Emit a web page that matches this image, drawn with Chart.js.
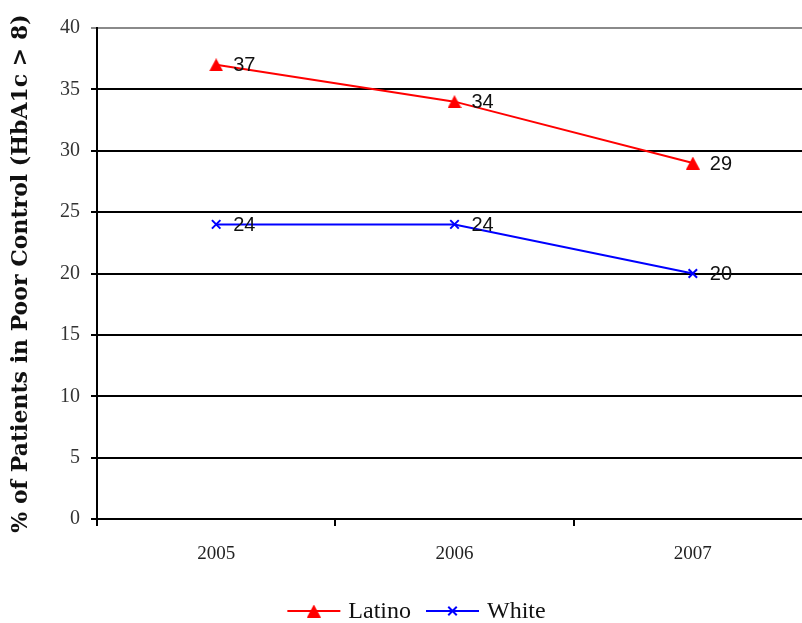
<!DOCTYPE html>
<html>
<head>
<meta charset="utf-8">
<script src="https://cdn.jsdelivr.net/npm/chart.js@4/dist/chart.umd.min.js"></script>
<style>
  html, body { margin: 0; padding: 0; background: #fff; overflow: hidden; }
  #wrap { width: 820px; height: 623px; }
</style>
</head>
<body>
<div id="wrap"><canvas id="c" width="820" height="623"></canvas></div>
<script>
// Poor glycaemic control by group and year
const years = ['2005', '2006', '2007'];
const latino = [37, 34, 29];
const white = [24, 24, 20];
const yTicks = [0, 5, 10, 15, 20, 25, 30, 35, 40];
const yTitle = '% of Patients in Poor Control (HbA1c > 8)';

const SERIF = '"Liberation Serif", "DejaVu Serif", serif';
const SANS = '"Liberation Sans", Arial, sans-serif';

// Filled triangle marker centred on its point
function triangleMarker(color, w, h) {
  const c = document.createElement('canvas');
  c.width = w; c.height = h;
  const g = c.getContext('2d');
  g.fillStyle = color;
  g.beginPath();
  g.moveTo(w / 2, 0);
  g.lineTo(w, h);
  g.lineTo(0, h);
  g.closePath();
  g.fill();
  return c;
}
const redTriangle = triangleMarker('#ff0000', 14, 13);

// Value labels to the right of each point
const valueLabels = {
  id: 'valueLabels',
  afterDatasetsDraw(chart) {
    const ctx = chart.ctx;
    ctx.save();
    ctx.font = '20px ' + SANS;
    ctx.fillStyle = '#111';
    ctx.textAlign = 'left';
    ctx.textBaseline = 'middle';
    chart.data.datasets.forEach((ds, i) => {
      chart.getDatasetMeta(i).data.forEach((pt, j) => {
        ctx.fillText(String(ds.data[j]), pt.x + 17, pt.y + 1);
      });
    });
    ctx.restore();
  }
};

// Legend with line-and-marker samples, centred under the plot
const lineLegend = {
  id: 'lineLegend',
  afterDraw(chart) {
    const ctx = chart.ctx;
    ctx.save();
    ctx.font = '24px ' + SERIF;
    const sample = 53, gap = 8, itemGap = 15;
    const items = chart.data.datasets.map(ds => ({ ds, w: sample + gap + ctx.measureText(ds.label).width }));
    const total = items.reduce((s, it) => s + it.w, 0) + itemGap * (items.length - 1);
    let x = 416.5 - total / 2;
    const y = 611;
    items.forEach(({ ds, w }) => {
      ctx.strokeStyle = ds.borderColor;
      ctx.lineWidth = ds.borderWidth;
      ctx.beginPath();
      ctx.moveTo(x, y);
      ctx.lineTo(x + sample, y);
      ctx.stroke();
      ctx.fillStyle = ds.pointBackgroundColor;
      ctx.strokeStyle = ds.pointBorderColor;
      ctx.lineWidth = ds.pointBorderWidth;
      Chart.helpers.drawPoint(ctx, {
        pointStyle: ds.pointStyle,
        radius: ds.pointRadius,
        borderWidth: ds.pointBorderWidth,
        rotation: 0
      }, x + sample / 2, y);
      ctx.fillStyle = '#111';
      ctx.textAlign = 'left';
      ctx.textBaseline = 'middle';
      ctx.fillText(ds.label, x + sample + gap, y + 1);
      x += w + itemGap;
    });
    ctx.restore();
  }
};

new Chart(document.getElementById('c'), {
  type: 'line',
  data: {
    labels: years,
    datasets: [
      {
        label: 'Latino',
        data: latino,
        borderColor: '#ff0000',
        backgroundColor: '#ff0000',
        borderWidth: 2,
        pointStyle: redTriangle,
        pointRadius: 7,
        pointBackgroundColor: '#ff0000',
        pointBorderColor: '#ff0000',
        pointBorderWidth: 1,
        tension: 0
      },
      {
        label: 'White',
        data: white,
        borderColor: '#0000ff',
        backgroundColor: '#0000ff',
        borderWidth: 2,
        pointStyle: 'crossRot',
        pointRadius: 6,
        pointBackgroundColor: '#0000ff',
        pointBorderColor: '#0000ff',
        pointBorderWidth: 2,
        tension: 0
      }
    ]
  },
  options: {
    responsive: false,
    animation: false,
    layout: { padding: { top: 28, right: 5, bottom: 60, left: 0 } },
    plugins: {
      legend: { display: false },
      tooltip: { enabled: false }
    },
    scales: {
      x: {
        offset: true,
        afterFit(scale) { scale.height = 44; },
        grid: {
          offset: true,
          drawOnChartArea: false,
          drawTicks: true,
          tickLength: 7,
          color: '#000',
          lineWidth: 2
        },
        border: { color: '#000', width: 2 },
        ticks: {
          font: { family: SERIF, size: 19 },
          color: '#222',
          padding: 17,
          maxRotation: 0
        }
      },
      y: {
        min: 0,
        max: 40,
        afterFit(scale) { scale.width = 97; },
        afterBuildTicks(scale) { scale.ticks = yTicks.map(v => ({ value: v })); },
        grid: {
          color: ctx => (ctx.tick && ctx.tick.value === 40 ? '#8a8a8a' : '#000'),
          lineWidth: 2,
          tickLength: 6
        },
        border: { color: '#000', width: 2 },
        ticks: {
          font: { family: SERIF, size: 20 },
          color: '#333',
          padding: 11
        },
        title: {
          display: true,
          text: yTitle,
          font: { family: '"DejaVu Serif", serif', size: 22, weight: 'bold' },
          color: '#111',
          padding: { top: 8, bottom: 0 }
        }
      }
    }
  },
  plugins: [valueLabels, lineLegend]
});
</script>
</body>
</html>
